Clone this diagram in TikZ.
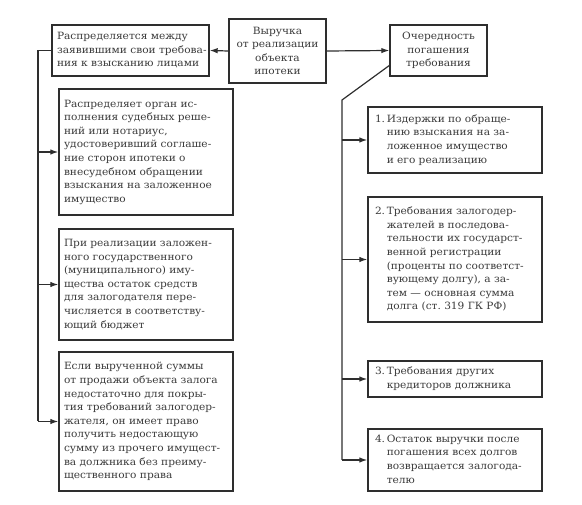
\documentclass[tikz,border=0pt]{standalone}
\usepackage{fontspec}
\setmainfont{DejaVu Serif}[FakeStretch=1.06]
\usetikzlibrary{arrows.meta}
\definecolor{ink}{HTML}{3A3A3A}
\definecolor{edge}{HTML}{2E2E2E}
\newcommand{\lines}[1]{\begin{tabular}{@{}l@{}}#1\end{tabular}}
\newcommand{\hlines}[2]{\begin{tabular}{@{}l@{\,}l@{}}#1&#2\end{tabular}}
\begin{document}
\begin{tikzpicture}[x=1pt,y=-1pt,
  every node/.style={font=\fontsize{10}{13.6}\selectfont, text=ink},
  boxL/.style={draw=edge, line width=1.4pt, inner sep=0pt, align=left, minimum width=#1, text width=#1-10pt},
  boxR/.style={draw=edge, line width=1.4pt, inner sep=0pt, align=left, minimum width=#1, text width=#1-14pt},
  boxC/.style={draw=edge, line width=1.4pt, inner sep=0pt, align=center, minimum width=#1, text width=#1-6pt},
  conn/.style={draw=edge, line width=1.2pt},
  arr/.style={conn, -{Latex[length=8pt,width=5.5pt]}}]
\useasboundingbox (0,0) rectangle (582,505);
\renewcommand{\arraystretch}{1.0}
% top row
\node[boxL=157, minimum height=51] (L1) at (130.5,50.5) {\lines{Распределяется между\\заявившими свои требова-\\ния к взысканию лицами}};
\node[boxC=97, minimum height=64] (C) at (277.5,51) {Выручка\\от реализации\\объекта\\ипотеки};
\node[boxC=97, minimum height=51] (R0) at (438.5,50.5) {Очередность\\погашения\\требования};
% left column
\node[boxL=174, minimum height=126] (L2) at (146,152) {\lines{Распределяет орган ис-\\полнения судебных реше-\\ний или нотариус,\\удостоверивший соглаше-\\ние сторон ипотеки о\\внесудебном обращении\\взыскания на заложенное\\имущество}};
\node[boxL=174, minimum height=111] (L3) at (146,284.5) {\lines{При реализации заложен-\\ного государственного\\(муниципального) иму-\\щества остаток средств\\для залогодателя пере-\\числяется в соответству-\\ющий бюджет}};
\node[boxL=174, minimum height=139] (L4) at (146,421.5) {\lines{Если вырученной суммы\\от продажи объекта залога\\недостаточно для покры-\\тия требований залогодер-\\жателя, он имеет право\\получить недостающую\\сумму из прочего имущест-\\ва должника без преиму-\\щественного права}};
% right column
\node[boxR=174, minimum height=66] (R1) at (455,140) {\hlines{1.}{Издержки по обраще-\\&нию взыскания на за-\\&ложенное имущество\\&и его реализацию}};
\node[boxR=174, minimum height=125] (R2) at (455,259.5) {\hlines{2.}{Требования залогодер-\\&жателей в последова-\\&тельности их государст-\\&венной регистрации\\&(проценты по соответст-\\&вующему долгу), а за-\\&тем — основная сумма\\&долга (ст.~319 ГК РФ)}};
\node[boxR=174, minimum height=36] (R3) at (455,379) {\hlines{3.}{Требования других\\&кредиторов должника}};
\node[boxR=174, minimum height=62] (R4) at (455,460) {\hlines{4.}{Остаток выручки после\\&погашения всех долгов\\&возвращается залогода-\\&телю}};
% connectors top
\draw[arr] (C.west) -- (L1.east);
\draw[arr] (C.east) -- (R0.west);
% left spine
\coordinate (ls) at (38,50.5);
\coordinate (lb) at (38,421.5);
\draw[conn] (L1.west) -- (ls) -- (lb);
\draw[arr] (ls |- L2.west) -- (L2.west);
\draw[arr] (ls |- L3.west) -- (L3.west);
\draw[arr] (lb) -- (L4.west);
% right spine
\coordinate (rd) at (390,65);
\coordinate (rt) at (342,100);
\coordinate (rb) at (342,460);
\draw[conn] (rd) -- (rt) -- (rb);
\draw[arr] (rt |- R1.west) -- (R1.west);
\draw[arr] (rt |- R2.west) -- (R2.west);
\draw[arr] (rt |- R3.west) -- (R3.west);
\draw[arr] (rb) -- (R4.west);
\end{tikzpicture}
\end{document}
